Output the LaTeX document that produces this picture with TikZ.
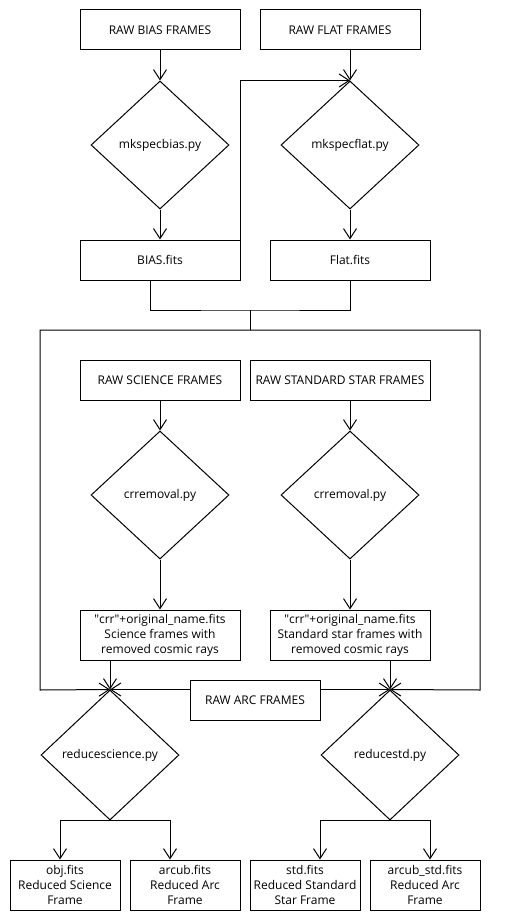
\documentclass[tikz,border=0pt]{standalone}
\usepackage{fontspec}
\setmainfont{Open Sans}
\usetikzlibrary{arrows.meta,shapes.geometric}

\begin{document}
\begin{tikzpicture}[x=1pt,y=-1pt,
  every node/.style={font=\fontsize{12}{15}\selectfont, align=center, line width=1pt},
  box/.style={draw, rectangle, inner sep=0pt, minimum width=#1},
  box/.default=160pt,
  tall/.style={minimum height=50pt},
  short/.style={minimum height=40pt},
  decide/.style={draw, diamond, inner sep=0pt, minimum width=138pt, minimum height=128pt},
  link/.style={line width=1pt},
  arr/.style={link, -{Straight Barb[length=10pt,width=13pt,line width=1pt]}}
]
\useasboundingbox (0,0) rectangle (510,920);

% calibration stage: bias and flat frames
\node[box, short] (rawbias) at (160,30) {RAW BIAS FRAMES};
\node[box, short] (rawflat) at (340,30) {RAW FLAT FRAMES};
\node[decide] (biasdia) at (160,145) {mkspecbias.py};
\node[decide] (flatdia) at (350,145) {mkspecflat.py};
\node[box, short] (biasfits) at (160,260) {BIAS.fits};
\node[box, short] (flatfits) at (350,260) {Flat.fits};

% cosmic ray removal stage
\node[box, short] (rawsci) at (160,380) {RAW SCIENCE FRAMES};
\node[box=180pt, short] (rawstd) at (340,380) {RAW STANDARD STAR FRAMES};
\node[decide] (crrsci) at (160,495) {crremoval.py};
\node[decide] (crrstd) at (350,495) {crremoval.py};
\node[box, tall] (crrscifits) at (160,635) {\textquotedbl crr\textquotedbl+original\_name.fits\\Science frames with\\removed cosmic rays};
\node[box, tall] (crrstdfits) at (350,635) {\textquotedbl crr\textquotedbl+original\_name.fits\\Standard star frames with\\removed cosmic rays};

% reduction stage
\node[box=130pt, short] (rawarc) at (255,700) {RAW ARC FRAMES};
\node[decide, minimum height=130pt] (redsci) at (110,755) {reducescience.py};
\node[decide, minimum height=130pt] (redstd) at (390,755) {reducestd.py};
\node[box=110pt, tall] (obj) at (65,885) {obj.fits\\Reduced Science\\Frame};
\node[box=110pt, tall] (arcub) at (185,885) {arcub.fits\\Reduced Arc\\Frame};
\node[box=110pt, tall] (std) at (305,885) {std.fits\\Reduced Standard\\Star Frame};
\node[box=110pt, tall] (arcubstd) at (425,885) {arcub\_std.fits\\Reduced Arc\\Frame};

% routing points of the calibration bus
\coordinate (join) at (250,310);
\coordinate (frametop) at (250,330);
\coordinate (fnw) at (40,330);
\coordinate (fsw) at (40,690);
\coordinate (fne) at (480,330);
\coordinate (fse) at (480,690);

% calibration connectors
\draw[arr] (rawbias) -- (biasdia);
\draw[arr] (rawflat.south -| flatdia.north) -- (flatdia.north);
\draw[arr] (biasdia) -- (biasfits);
\draw[arr] (flatdia) -- (flatfits);
\draw[arr] (biasfits.north east) |- (flatdia.north);
\draw[link] ([xshift=-10pt]biasfits.south) |- (join) -| (flatfits.south);
\draw[link] (join) -- (frametop);
\draw[arr] (frametop) -- (fnw) -- (fsw) -- (redsci.north);
\draw[arr] (frametop) -- (fne) -- (fse) -- (redstd.north);

% cosmic ray connectors
\draw[arr] (rawsci) -- (crrsci);
\draw[arr] (rawstd.south -| crrstd.north) -- (crrstd.north);
\draw[arr] (crrsci) -- (crrscifits);
\draw[arr] (crrstd) -- (crrstdfits);
\draw[arr] (crrscifits.south -| redsci.north) -- (redsci.north);
\draw[arr] (crrstdfits.south -| redstd.north) -- (redstd.north);
\draw[arr] (rawarc.west |- redsci.north) -- (redsci.north);
\draw[arr] (rawarc.east |- redstd.north) -- (redstd.north);

% outputs
\draw[arr] (redsci.south) -| ([xshift=-5pt]obj.north);
\draw[arr] (redsci.south) -| ([xshift=-15pt]arcub.north);
\draw[arr] (redstd.south) -| ([xshift=15pt]std.north);
\draw[arr] (redstd.south) -| ([xshift=5pt]arcubstd.north);
\end{tikzpicture}
\end{document}
